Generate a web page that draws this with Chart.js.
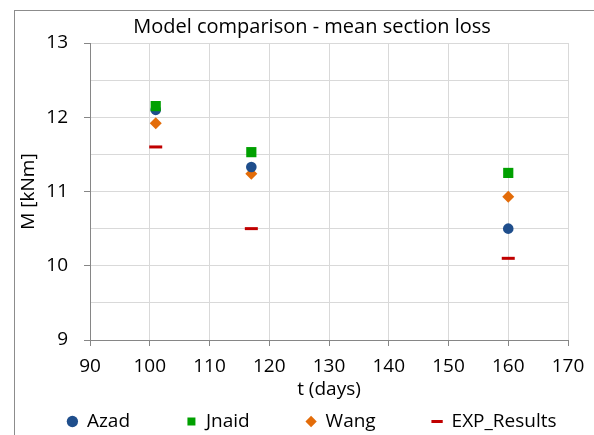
<!DOCTYPE html>
<html>
<head>
<meta charset="utf-8">
<script src="https://cdn.jsdelivr.net/npm/chart.js@4/dist/chart.umd.min.js"></script>
<style>
  html, body { margin: 0; padding: 0; background: #fff; }
  #wrap { position: relative; width: 594px; height: 435px; overflow: hidden; }
  #frame { position: absolute; left: 14px; top: 10px; width: 700px; height: 600px; border: 1px solid #8c8c8c; box-sizing: border-box; }
  canvas { position: absolute; left: 0; top: 0; }
</style>
</head>
<body>
<div id="wrap">
  <div id="frame"></div>
  <canvas id="chart" width="594" height="435"></canvas>
</div>
<script>
// t (days) for each test
const days = [101, 117, 160];
// M [kNm] per model
const azad = [12.1, 11.33, 10.5];
const jnaid = [12.15, 11.53, 11.25];
const wang = [11.92, 11.24, 10.93];
const expResults = [11.6, 10.5, 10.1];

const xTicks = [90, 100, 110, 120, 130, 140, 150, 160, 170];
const yTicks = [9, 10, 11, 12, 13];

const FONT = "'Open Sans'";
const FS = 19;
// spacing between legend entries (Excel spreads them out)
const LEGEND_GAP = '\u00a0'.repeat(9);

function points(values) {
    return values.map((v, i) => ({ x: days[i], y: v }));
}

const ctx = document.getElementById('chart');

const chart = new Chart(ctx, {
    type: 'scatter',
    data: {
        datasets: [
            {
                label: 'Azad',
                data: points(azad),
                pointStyle: 'circle',
                pointRadius: 5.3,
                backgroundColor: '#1f4e8c',
                borderColor: '#1f4e8c',
                borderWidth: 0,
                order: 1
            },
            {
                label: 'Jnaid',
                data: points(jnaid),
                pointStyle: 'rect',
                pointRadius: 7.2,
                backgroundColor: '#00a000',
                borderColor: '#00a000',
                borderWidth: 0,
                order: 0
            },
            {
                label: 'Wang',
                data: points(wang),
                pointStyle: 'rectRot',
                pointRadius: 6,
                backgroundColor: '#e36c09',
                borderColor: '#e36c09',
                borderWidth: 0,
                order: 1
            },
            {
                label: 'EXP_Results',
                data: points(expResults),
                pointStyle: 'line',
                pointRadius: 6.5,
                backgroundColor: '#c00000',
                borderColor: '#c00000',
                borderWidth: 3,
                order: 1
            }
        ]
    },
    options: {
        responsive: false,
        animation: false,
        layout: {
            padding: { top: 10, right: 0, bottom: -6, left: 30 }
        },
        plugins: {
            title: {
                display: true,
                text: 'Model comparison - mean section loss',
                color: '#000',
                font: { family: FONT, size: 20, weight: 'normal' },
                padding: { top: 5, bottom: 4 }
            },
            legend: {
                display: true,
                position: 'bottom',
                labels: {
                    usePointStyle: true,
                    boxWidth: 10,
                    boxHeight: 8,
                    padding: 12,
                    color: '#000',
                    font: { family: FONT, size: FS },
                    generateLabels: c => Chart.defaults.plugins.legend.labels.generateLabels(c).map(item => {
                        if (item.datasetIndex < 3) item.text += LEGEND_GAP;
                        return item;
                    }),
                    sort: (a, b) => a.datasetIndex - b.datasetIndex
                }
            },
            tooltip: { enabled: false }
        },
        scales: {
            x: {
                type: 'linear',
                min: 90,
                max: 170,
                afterFit: s => { s.height = 60; s.paddingRight = 26; },
                ticks: {
                    stepSize: 5,
                    color: '#000',
                    padding: 9,
                    maxRotation: 0,
                    font: { family: FONT, size: FS },
                    callback: v => (xTicks.includes(v) ? String(v) : '')
                },
                grid: {
                    color: '#d9d9d9',
                    lineWidth: 1,
                    tickLength: 6,
                    tickColor: c => (xTicks.includes(c.tick.value) ? '#868686' : 'rgba(0,0,0,0)')
                },
                border: { color: '#868686', width: 1 },
                title: {
                    display: true,
                    text: 't (days)',
                    color: '#000',
                    font: { family: FONT, size: FS },
                    padding: { top: 0, bottom: -1 }
                }
            },
            y: {
                type: 'linear',
                min: 9,
                max: 13,
                afterFit: s => { s.width = 60; },
                ticks: {
                    stepSize: 0.5,
                    color: '#000',
                    padding: 16,
                    font: { family: FONT, size: FS },
                    callback: v => (yTicks.includes(v) ? String(v) : '')
                },
                grid: {
                    color: '#d9d9d9',
                    lineWidth: 1,
                    tickLength: 6,
                    tickColor: c => (yTicks.includes(c.tick.value) ? '#868686' : 'rgba(0,0,0,0)')
                },
                border: { color: '#868686', width: 1 },
                title: {
                    display: true,
                    text: 'M [kNm]',
                    color: '#000',
                    font: { family: FONT, size: FS },
                    padding: { top: -13, bottom: 0 }
                }
            }
        }
    }
});
</script>
</body>
</html>
